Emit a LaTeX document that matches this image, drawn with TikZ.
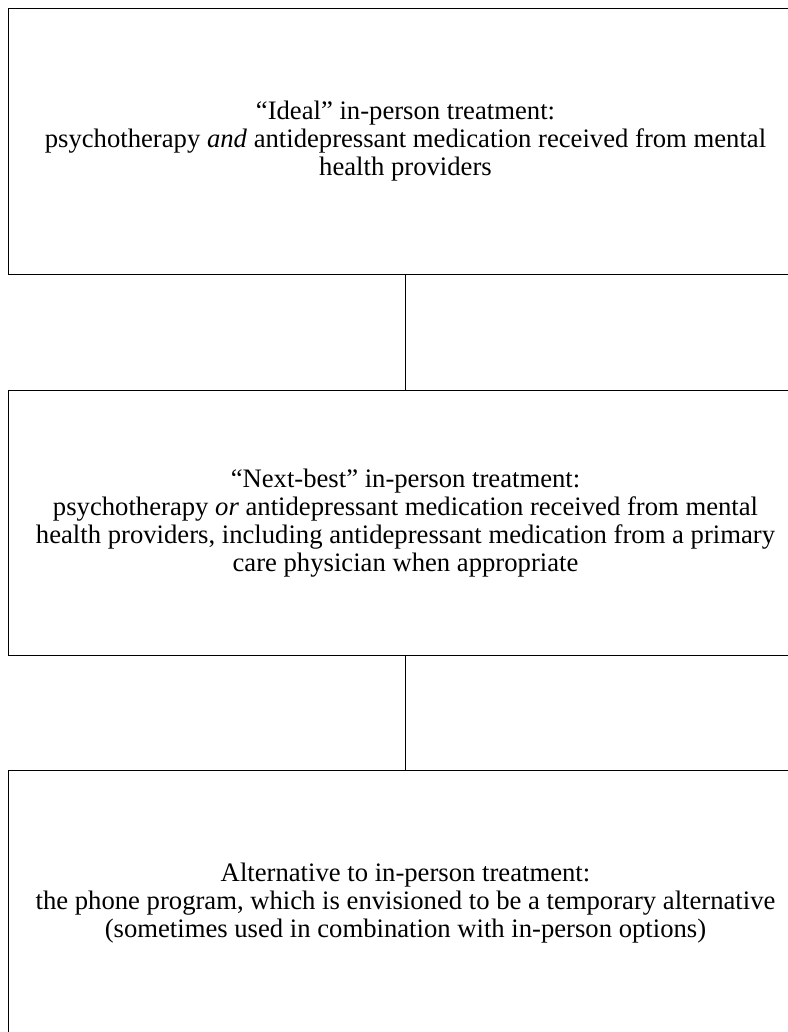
\documentclass[tikz,border=0pt]{standalone}
\usepackage{fontspec}
\setmainfont{Liberation Serif}
\begin{document}
\begin{tikzpicture}[x=0.75pt,y=-0.75pt,
  box/.style={draw=black, line width=0.6pt, minimum width=596.25pt, minimum height=199.1pt,
    inner sep=0pt, align=center, font=\fontsize{20}{21}\selectfont},
  link/.style={draw=black, line width=1.2pt}]
\useasboundingbox (0,0) rectangle (788,1032);
\node[box] (b1) at (405.5,141.2) {“Ideal” in-person treatment:\\
psychotherapy \textit{and} antidepressant medication received from mental\\
health providers};
\node[box] (b2) at (405.5,523) {“Next-best” in-person treatment:\\
psychotherapy \textit{or} antidepressant medication received from mental\\
health providers, including antidepressant medication from a primary\\
care physician when appropriate};
\node[box] (b3) at (405.5,903) {Alternative to in-person treatment:\\
the phone program, which is envisioned to be a temporary alternative\\
(sometimes used in combination with in-person options)};
\draw[link] (b1.south) -- (b2.north);
\draw[link] (b2.south) -- (b3.north);
\end{tikzpicture}
\end{document}
